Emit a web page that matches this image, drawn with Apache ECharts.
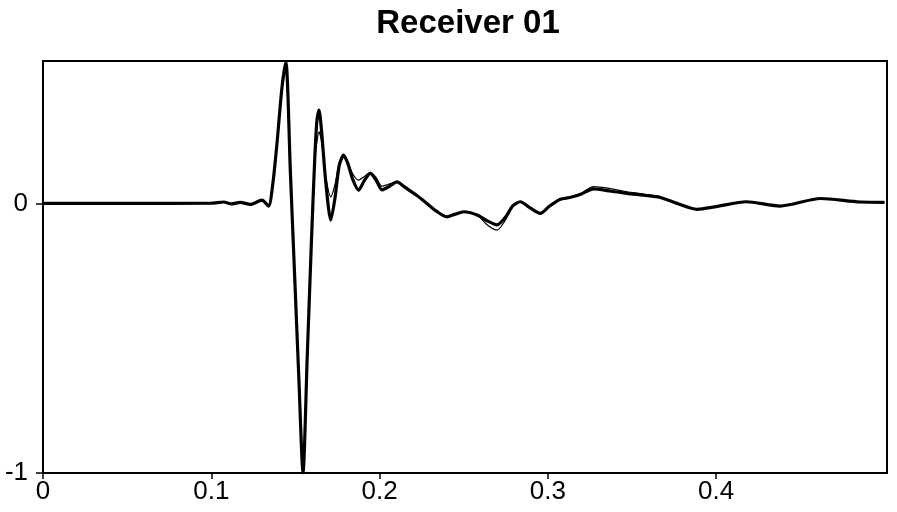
<!DOCTYPE html>
<html>
<head>
<meta charset="utf-8">
<script src="https://cdn.jsdelivr.net/npm/echarts@6/dist/echarts.min.js"></script>
<style>html,body{margin:0;padding:0;background:#fff}#c{width:897px;height:512px}</style>
</head>
<body>
<div id="c"></div>
<script>
var titleText = "Receiver 01";
var times = [0,0.05,0.1,0.1073,0.112,0.1172,0.1232,0.1301,0.134,0.1365,0.139,0.142,0.1443,0.147,0.1495,0.152,0.1545,0.157,0.1595,0.1615,0.1628,0.164,0.1655,0.168,0.171,0.1735,0.176,0.1786,0.181,0.184,0.1875,0.191,0.1945,0.198,0.2014,0.205,0.2103,0.215,0.222,0.228,0.234,0.240,0.245,0.250,0.258,0.264,0.2698,0.275,0.279,0.2836,0.289,0.2955,0.301,0.3074,0.313,0.320,0.327,0.337,0.347,0.357,0.3668,0.3767,0.3886,0.400,0.418,0.438,0.462,0.4856,0.5];
var ampThick = [0,0,0.001,0.005,-0.002,0.004,-0.004,0.012,-0.01,0.07,0.22,0.43,0.525,0.115,-0.265,-0.645,-1.0,-0.57,-0.14,0.17,0.31,0.346,0.27,0.08,-0.062,0.02,0.14,0.179,0.15,0.09,0.049,0.085,0.111,0.085,0.05,0.06,0.080,0.06,0.03,0,-0.03,-0.05,-0.04,-0.031,-0.043,-0.065,-0.080,-0.05,-0.01,0.006,-0.015,-0.037,-0.01,0.015,0.022,0.035,0.054,0.046,0.037,0.03,0.022,0.0,-0.022,-0.012,0.006,-0.010,0.018,0.005,0.004];
var ampThin = [0,0,0.001,0.005,-0.002,0.004,-0.004,0.012,-0.01,0.07,0.22,0.43,0.525,0.115,-0.265,-0.645,-1.0,-0.57,-0.14,0.16,0.23,0.265,0.23,0.1,0.024,0.07,0.15,0.179,0.155,0.11,0.086,0.1,0.115,0.095,0.064,0.07,0.080,0.06,0.03,0,-0.03,-0.05,-0.04,-0.031,-0.043,-0.08,-0.099,-0.06,-0.01,0.006,-0.015,-0.037,-0.01,0.015,0.022,0.038,0.062,0.055,0.043,0.034,0.022,0.0,-0.022,-0.012,0.006,-0.010,0.018,0.005,0.004];
var xTicks = [0,0.1,0.2,0.3,0.4];
var yTicks = [-1,0];

function pairs(xs, ys){ return xs.map(function(x,i){ return [x, ys[i]]; }); }

var chart = echarts.init(document.getElementById('c'));
var font = "'Liberation Sans', Arial, sans-serif";
chart.setOption({
  animation: false,
  backgroundColor: '#fff',
  title: {
    text: titleText, left: 463, top: 2, textAlign: 'center',
    textStyle: {fontFamily: font, fontWeight: 'bold', fontSize: 33, color: '#000'}
  },
  grid: {left: 43, right: 10, top: 61, bottom: 39, show: true, borderColor: '#000', borderWidth: 2, containLabel: false},
  xAxis: {
    type: 'value', min: 0, max: 0.5015,
    axisLine: {show: true, onZero: false, lineStyle: {color: '#000', width: 2}},
    axisTick: {show: true, length: 6, customValues: xTicks, lineStyle: {color: '#000', width: 1.5}},
    axisLabel: {customValues: xTicks, color: '#000', fontFamily: font, fontSize: 26, margin: 6,
      formatter: function(v){ return v === 0 ? '0' : String(Math.round(v*10)/10); }},
    splitLine: {show: false}
  },
  yAxis: {
    type: 'value', min: -1, max: 0.528,
    axisLine: {show: true, onZero: false, lineStyle: {color: '#000', width: 2}},
    axisTick: {show: true, length: 7, customValues: yTicks, lineStyle: {color: '#000', width: 1.5}},
    axisLabel: {customValues: yTicks, color: '#000', fontFamily: font, fontSize: 26, margin: 15},
    splitLine: {show: false}
  },
  series: [
    {type: 'line', data: pairs(times, ampThin), showSymbol: false, smooth: 0.25, lineStyle: {color: '#000', width: 1.2}, z: 3},
    {type: 'line', data: pairs(times, ampThick), showSymbol: false, smooth: 0.25, lineStyle: {color: '#000', width: 3.2}, z: 2}
  ]
});
</script>
</body>
</html>
